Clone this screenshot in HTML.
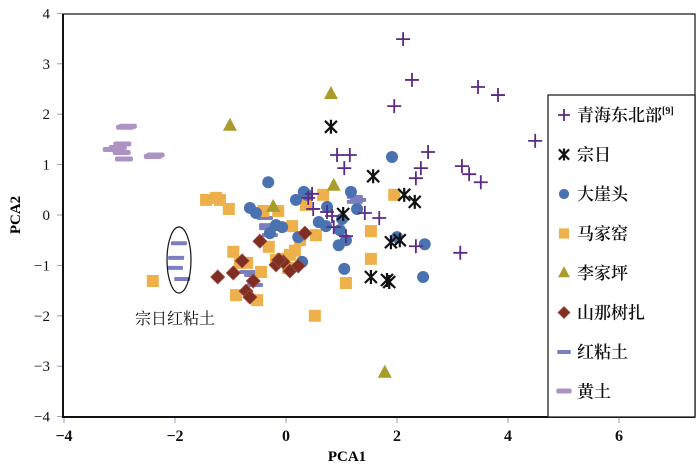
<!DOCTYPE html>
<html><head><meta charset="utf-8">
<style>
body{margin:0;background:#fff;}
svg{display:block;font-family:"Liberation Serif","Noto Serif CJK SC",serif;}
</style></head>
<body>
<svg id="chart" width="700" height="469" viewBox="0 0 700 469" xmlns="http://www.w3.org/2000/svg">
<rect x="0" y="0" width="700" height="469" fill="#fff"/>
<g id="marks"></g>
<rect x="63" y="14" width="632" height="403" fill="none" stroke="#222" stroke-width="1.3"/>
<path d="M63 14V417H695" fill="none" stroke="#111" stroke-width="2"/>
<g id="axes"></g>
<ellipse cx="179" cy="260" rx="12" ry="33" fill="none" stroke="#111" stroke-width="1.2"/>
<text x="175" y="324" font-size="16" text-anchor="middle" fill="#111">宗日红粘土</text>
<text x="347" y="461" font-size="15" font-weight="bold" text-anchor="middle">PCA1</text>
<text x="20" y="215" font-size="15" font-weight="bold" text-anchor="middle" transform="rotate(-90 20 215)">PCA2</text>
<g id="legend"></g>
</svg>
<script>
const xTicks=[-4,-2,0,2,4,6];
const yTicks=[-4,-3,-2,-1,0,1,2,3,4];
const qinghaiX=[2.11,2.27,3.46,3.82,1.95,4.49,2.56,2.43,2.34,3.17,3.30,3.51,0.92,1.15,1.05,0.40,0.49,1.42,1.68,2.34,3.14,0.83,0.86,0.74,1.08,0.47];
const qinghaiY=[3.49,2.68,2.54,2.38,2.16,1.47,1.25,0.93,0.73,0.97,0.81,0.65,1.19,1.19,0.93,0.34,0.12,0.04,-0.06,-0.62,-0.75,-0.02,-0.24,0.06,-0.42,0.42];
const zongriX=[0.81,1.57,2.13,2.32,1.03,1.89,2.05,1.53,1.82,1.86];
const zongriY=[1.75,0.77,0.40,0.26,0.02,-0.54,-0.50,-1.23,-1.29,-1.33];
const dayatouX=[1.91,-0.32,1.17,0.32,0.18,-0.65,-0.54,0.74,1.28,1.01,0.97,1.08,0.95,-0.18,0.22,1.05,2.50,2.00,2.47,0.72,0.59,0.38,0.29,-0.29,-0.07];
const dayatouY=[1.15,0.65,0.46,0.46,0.30,0.14,0.04,0.16,0.12,-0.08,-0.30,-0.50,-0.60,-0.20,-0.44,-1.07,-0.58,-0.44,-1.23,-0.22,-0.14,0.40,-0.93,-0.36,-0.24];
const majiayaoX=[-1.44,-1.19,-1.03,-1.26,-2.40,-0.95,-0.83,-0.90,-0.70,-0.45,-0.31,-0.18,-0.07,0.07,0.11,-0.14,0.54,0.25,0.67,0.36,-0.41,1.53,1.53,1.08,0.52,1.95,-0.52,0.04,0.16];
const majiayaoY=[0.30,0.30,0.12,0.34,-1.31,-0.73,-0.95,-1.59,-0.95,-1.13,-0.63,-0.89,-0.87,-0.79,-0.22,0.08,-0.40,-0.50,0.40,0.20,0.08,-0.32,-0.87,-1.35,-2.00,0.40,-1.69,-1.05,-0.71];
const lijiapingX=[-1.01,0.81,0.86,-0.23,1.78];
const lijiapingY=[1.77,2.40,0.58,0.16,-3.13];
const shannaX=[-0.47,-1.23,-0.95,-0.79,-0.72,-0.65,-0.59,-0.18,-0.05,0.07,0.22,0.34,-0.13];
const shannaY=[-0.52,-1.23,-1.15,-0.91,-1.51,-1.63,-1.31,-0.99,-0.93,-1.11,-1.01,-0.36,-0.89];
const redClayX=[-1.93,-1.98,-2.00,-1.87,-0.38,-0.34,-0.34,-0.29,-0.70,-0.61,-0.56,1.24,1.24,1.30];
const redClayY=[-0.56,-0.85,-1.05,-1.27,-0.06,-0.20,-0.26,-0.40,-1.13,-1.19,-1.39,0.36,0.26,0.30];
const loessX=[-2.90,-2.85,-3.03,-2.96,-2.92,-2.40,-3.14,-2.95,-2.35];
const loessY=[1.73,1.75,1.33,1.23,1.10,1.15,1.29,1.40,1.18];
const legendLabels=["青海东北部","宗日","大崖头","马家窑","李家坪","山那树扎","红粘土","黄土"];

const NS="http://www.w3.org/2000/svg";
function sx(v){return 286+v*55.5;}
function sy(v){return 215-v*50.4;}
function mk(tag,attrs,parent){const e=document.createElementNS(NS,tag);for(const k in attrs)e.setAttribute(k,attrs[k]);parent.appendChild(e);return e;}
const marks=document.getElementById('marks'),axes=document.getElementById('axes'),legend=document.getElementById('legend');

function drawMarker(type,x,y,parent,s){
  s=s||1;
  const g=mk('g',{},parent);
  if(type==='plus'){mk('path',{d:`M${x-7*s} ${y}H${x+7*s}M${x} ${y-7*s}V${y+7*s}`,stroke:'#5b2a86','stroke-width':1.8,fill:'none'},g);}
  else if(type==='star'){mk('path',{d:`M${x-6*s} ${y-6*s}L${x+6*s} ${y+6*s}M${x+6*s} ${y-6*s}L${x-6*s} ${y+6*s}M${x} ${y-7*s}V${y+7*s}`,stroke:'#111','stroke-width':2.2,fill:'none'},g);}
  else if(type==='circle'){mk('circle',{cx:x,cy:y,r:6*s,fill:'#4a72b0'},g);}
  else if(type==='square'){mk('rect',{x:x-6*s,y:y-6*s,width:12*s,height:12*s,fill:'#eeb04a'},g);}
  else if(type==='tri'){mk('polygon',{points:`${x},${y-8*s} ${x+7*s},${y+5*s} ${x-7*s},${y+5*s}`,fill:'#a89c2a'},g);}
  else if(type==='diamond'){mk('polygon',{points:`${x},${y-7*s} ${x+7*s},${y} ${x},${y+7*s} ${x-7*s},${y}`,fill:'#7e2e22',stroke:'#a05040','stroke-width':0.8},g);}
  else if(type==='dash'){mk('rect',{x:x-8*s,y:y-2,width:16*s,height:4,rx:1,fill:'#7b7fc0'},g);}
  else if(type==='ldash'){mk('rect',{x:x-9*s,y:y-3,width:18*s,height:5,rx:2,fill:'#ad92c4'},g);}
  return g;
}
const series=[
 ['loess','ldash',loessX,loessY],['red-clay','dash',redClayX,redClayY],
 ['majiayao','square',majiayaoX,majiayaoY],['dayatou','circle',dayatouX,dayatouY],
 ['shanna','diamond',shannaX,shannaY],['lijiaping','tri',lijiapingX,lijiapingY],
 ['qinghai','plus',qinghaiX,qinghaiY],['zongri','star',zongriX,zongriY]];
series.forEach(s=>{
  for(let i=0;i<s[2].length;i++){
    const g=drawMarker(s[1],sx(s[2][i]),sy(s[3][i]),marks);
    
    
  }
});
xTicks.forEach(t=>{
  const x=sx(t);
  const l=mk('line',{x1:x,x2:x,y1:418,y2:423,stroke:'#8aa0c0'},axes);
  
  
  const tx=mk('text',{x:x,y:441,'font-size':16,'font-weight':'bold','text-anchor':'middle',fill:'#111'},axes);
  tx.textContent=t<0?'−'+Math.abs(t):String(t);
  
  
});
yTicks.forEach(t=>{
  const y=sy(t);
  const l=mk('line',{x1:57,x2:62,y1:y,y2:y,stroke:'#8aa0c0'},axes);
  
  
  const tx=mk('text',{x:50,y:y+5,'font-size':15,'text-anchor':'end',fill:'#111'},axes);
  tx.textContent=t<0?'−'+Math.abs(t):String(t);
  
  
});
const lb=mk('rect',{x:548,y:95,width:147,height:322,fill:'#fff',stroke:'#222','stroke-width':1.3},legend);


const ltypes=['plus','star','circle','square','tri','diamond','dash','ldash'];
legendLabels.forEach((lab,i)=>{
  const y=115+i*39.5;
  const g=drawMarker(ltypes[i],564,y,legend,0.85);
  
  
  const t=mk('text',{x:577,y:y+6,'font-size':17,'font-weight':600,fill:'#111'},legend);
  t.textContent=lab;
  
  
  if(i===0){const s=mk('tspan',{'font-size':10,dy:-7},t);s.textContent='[9]';}
});
</script>
</body></html>
